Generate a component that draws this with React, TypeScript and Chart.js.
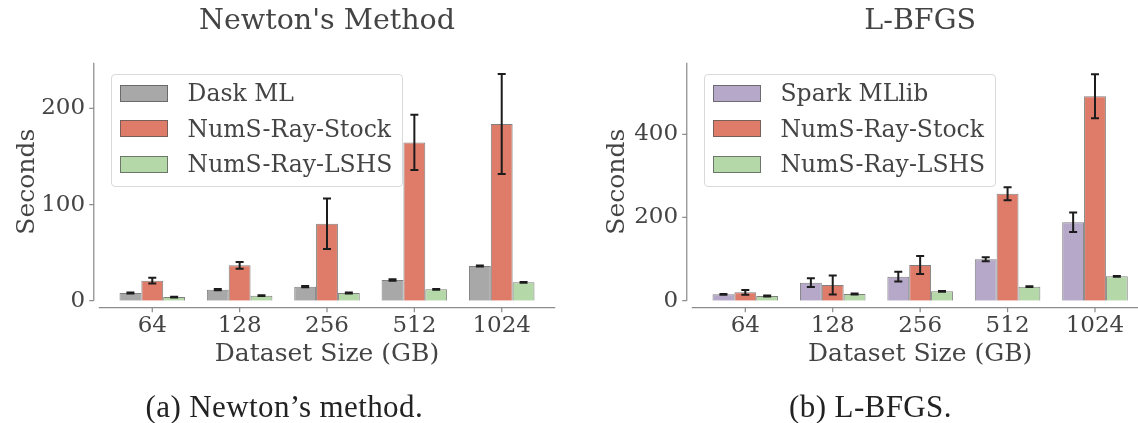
import React, { useEffect, useRef } from "react";
import { Chart, registerables } from "chart.js";

Chart.register(...registerables);

// ---------------- data ----------------
const sizes = ["64", "128", "256", "512", "1024"];

const newtonDask = [8.0, 11.5, 14.6, 21.5, 36.1];
const newtonDaskErr = [0.6, 0.6, 0.7, 0.8, 0.6];
const newtonStock = [20.8, 36.8, 80.0, 164.6, 183.7];
const newtonStockErr = [3.0, 3.5, 26.3, 28.7, 52.0];
const newtonLshs = [3.8, 5.2, 8.0, 11.8, 19.1];
const newtonLshsErr = [0.4, 0.4, 0.4, 0.4, 0.4];

const lbfgsSpark = [15.3, 43.3, 57.7, 99.5, 188.5];
const lbfgsSparkErr = [1.0, 10.4, 11.6, 4.8, 23.2];
const lbfgsStock = [20.2, 37.7, 85.8, 257.2, 491.3];
const lbfgsStockErr = [5.6, 23.0, 21.6, 15.6, 53.0];
const lbfgsLshs = [11.3, 16.1, 22.6, 33.7, 58.6];
const lbfgsLshsErr = [1.0, 1.0, 1.0, 1.0, 1.0];

const newtonYTicks = [0, 100, 200];
const lbfgsYTicks = [0, 200, 400];
const newtonYMax = 247.5;
const lbfgsYMax = 572;

// ---------------- styles ----------------
const FONT = "'DejaVu Serif', serif";
const TEXT = "#444444";
const EDGE = "rgba(85,85,85,0.75)";
const GREY = "#a8a8a8";
const RED = "#df7b69";
const GREEN = "#b4d8a7";
const PURPLE = "#b5a8c8";
const SPINE = "#8d8d8d";

type Series = { label: string; color: string; values: number[]; errors: number[] };

const newtonSeries: Series[] = [
  { label: "Dask ML", color: GREY, values: newtonDask, errors: newtonDaskErr },
  { label: "NumS-Ray-Stock", color: RED, values: newtonStock, errors: newtonStockErr },
  { label: "NumS-Ray-LSHS", color: GREEN, values: newtonLshs, errors: newtonLshsErr },
];
const lbfgsSeries: Series[] = [
  { label: "Spark MLlib", color: PURPLE, values: lbfgsSpark, errors: lbfgsSparkErr },
  { label: "NumS-Ray-Stock", color: RED, values: lbfgsStock, errors: lbfgsStockErr },
  { label: "NumS-Ray-LSHS", color: GREEN, values: lbfgsLshs, errors: lbfgsLshsErr },
];

// offset spines + ticks like seaborn despine(offset)
const spinePlugin = {
  id: "offsetSpines",
  afterDraw(chart: any) {
    const { ctx, chartArea } = chart;
    const xs = chart.scales.x;
    const ys = chart.scales.y;
    const n = xs.ticks.length;
    const step = xs.getPixelForValue(1) - xs.getPixelForValue(0);
    const xl = xs.getPixelForValue(0) - 0.6125 * step;
    const xr = xs.getPixelForValue(n - 1) + 0.6125 * step;
    const y0 = ys.getPixelForValue(0);
    const spineY = y0 + 7;
    const spineX = xl - 5;
    ctx.save();
    ctx.strokeStyle = SPINE;
    ctx.lineWidth = 1.25;
    ctx.beginPath();
    ctx.moveTo(xl, spineY);
    ctx.lineTo(xr, spineY);
    ctx.moveTo(spineX, chartArea.top);
    ctx.lineTo(spineX, y0);
    for (let i = 0; i < n; i++) {
      const px = xs.getPixelForValue(i);
      ctx.moveTo(px, spineY);
      ctx.lineTo(px, spineY + 4.5);
    }
    ys.ticks.forEach((t: any) => {
      const py = ys.getPixelForValue(t.value);
      ctx.moveTo(spineX - 4.5, py);
      ctx.lineTo(spineX, py);
    });
    ctx.stroke();
    ctx.restore();
  },
};

const errorBarPlugin = {
  id: "errorBars",
  afterDatasetsDraw(chart: any) {
    const { ctx } = chart;
    const ys = chart.scales.y;
    chart.data.datasets.forEach((ds: any, di: number) => {
      const meta = chart.getDatasetMeta(di);
      meta.data.forEach((bar: any, i: number) => {
        const v = ds.data[i];
        const e = ds.errors[i];
        const top = ys.getPixelForValue(v + e);
        const bot = ys.getPixelForValue(v - e);
        ctx.save();
        ctx.strokeStyle = "#1c1c1c";
        ctx.lineWidth = 2;
        ctx.beginPath();
        ctx.moveTo(bar.x, top);
        ctx.lineTo(bar.x, bot);
        ctx.moveTo(bar.x - 4, top);
        ctx.lineTo(bar.x + 4, top);
        ctx.moveTo(bar.x - 4, bot);
        ctx.lineTo(bar.x + 4, bot);
        ctx.stroke();
        ctx.restore();
      });
    });
  },
};

type PanelProps = {
  left: number;
  width: number;
  yAxisWidth: number;
  padRight: number;
  yMax: number;
  yTicks: number[];
  title: string;
  series: Series[];
  yTitlePad: number;
};

function Panel(p: PanelProps) {
  const ref = useRef<HTMLCanvasElement>(null);
  useEffect(() => {
    if (!ref.current) return;
    const chart = new Chart(ref.current, {
      type: "bar",
      data: {
        labels: sizes,
        datasets: p.series.map((s) => ({
          label: s.label,
          data: s.values,
          errors: s.errors,
          backgroundColor: s.color,
          borderColor: EDGE,
          borderWidth: 1,
          categoryPercentage: 0.75,
          barPercentage: 1,
        })) as any,
      },
      options: {
        responsive: false,
        animation: false,
        layout: { padding: { left: 0, right: p.padRight, top: 0, bottom: 0 } },
        plugins: {
          legend: { display: false },
          tooltip: { enabled: false },
          title: {
            display: true,
            text: p.title,
            fullSize: false,
            color: TEXT,
            font: { family: FONT, size: 28.5, weight: "normal" as any, lineHeight: 1.2 },
            padding: { top: 4, bottom: 24.5 },
          },
        },
        scales: {
          x: {
            type: "category",
            offset: true,
            grid: { display: false, drawTicks: false },
            border: { display: false },
            ticks: {
              color: TEXT,
              font: { family: FONT, size: 23 },
              padding: 12,
              maxRotation: 0,
              autoSkip: false,
            },
            title: {
              display: true,
              text: "Dataset Size (GB)",
              color: TEXT,
              font: { family: FONT, size: 25, lineHeight: 1.2 },
              padding: { top: 0, bottom: 53.4 },
            },
            afterFit: (s: any) => {
              s.height = 122.3;
            },
          },
          y: {
            min: 0,
            max: p.yMax,
            grid: { display: false, drawTicks: false },
            border: { display: false },
            ticks: { color: TEXT, font: { family: FONT, size: 23 }, padding: 23.5 },
            afterBuildTicks: (s: any) => {
              s.ticks = p.yTicks.map((v) => ({ value: v }));
            },
            title: {
              display: true,
              text: "Seconds",
              color: TEXT,
              font: { family: FONT, size: 25, lineHeight: 1.2 },
              padding: { top: p.yTitlePad, bottom: 0 },
            },
            afterFit: (s: any) => {
              s.width = p.yAxisWidth;
            },
          },
        },
      } as any,
      plugins: [spinePlugin, errorBarPlugin],
    });
    return () => chart.destroy();
  }, []);
  return (
    <canvas
      ref={ref}
      width={p.width}
      height={423}
      style={{ position: "absolute", left: p.left, top: 0, width: p.width, height: 423 }}
    />
  );
}

function Legend({ left, series }: { left: number; series: Series[] }) {
  return (
    <div
      style={{
        position: "absolute",
        left,
        top: 74.3,
        width: 292,
        height: 113,
        boxSizing: "border-box",
        border: "1px solid #d9d9d9",
        borderRadius: 4,
        background: "rgba(255,255,255,0.8)",
      }}
    >
      {series.map((s, i) => (
        <React.Fragment key={i}>
          <div
            style={{
              position: "absolute",
              left: 8,
              top: 9.7 + i * 35.5,
              width: 48,
              height: 17,
              background: s.color,
              border: "1px solid " + EDGE,
              boxSizing: "border-box",
            }}
          />
          <div
            style={{
              position: "absolute",
              left: 76,
              top: 10.2 + i * 35.5,
              fontFamily: FONT,
              fontSize: 23.5,
              lineHeight: "17px",
              color: TEXT,
              whiteSpace: "nowrap",
            }}
          >
            {s.label}
          </div>
        </React.Fragment>
      ))}
    </div>
  );
}

const captionStyle: React.CSSProperties = {
  position: "absolute",
  top: 389,
  fontFamily: "'Liberation Serif', serif",
  fontSize: 31,
  lineHeight: "36px",
  letterSpacing: "0.4px",
  color: "#222",
  textAlign: "center",
  whiteSpace: "nowrap",
};

export default function App() {
  return (
    <div
      style={{
        position: "absolute",
        left: 0,
        top: 0,
        width: 1138,
        height: 423,
        overflow: "hidden",
        background: "#fff",
      }}
    >
      <Panel
        left={0}
        width={570}
        yAxisWidth={108.6}
        padRight={24.6}
        yMax={newtonYMax}
        yTicks={newtonYTicks}
        title="Newton's Method"
        series={newtonSeries}
        yTitlePad={12.7}
      />
      <Panel
        left={570}
        width={600}
        yAxisWidth={131.6}
        padRight={31.3}
        yMax={lbfgsYMax}
        yTicks={lbfgsYTicks}
        title="L-BFGS"
        series={lbfgsSeries}
        yTitlePad={32.2}
      />
      <Legend left={110.6} series={newtonSeries} />
      <Legend left={703.5} series={lbfgsSeries} />
      <div style={{ ...captionStyle, left: 84.3, width: 400 }}>(a) Newton’s method.</div>
      <div style={{ ...captionStyle, left: 670.5, width: 400 }}>(b) L-BFGS.</div>
    </div>
  );
}
